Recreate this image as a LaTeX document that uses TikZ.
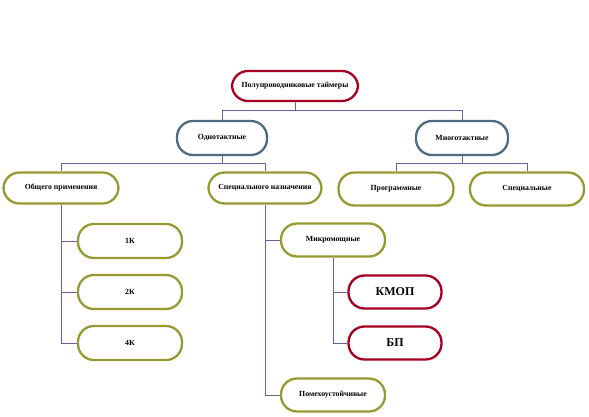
\documentclass[tikz,border=0pt]{standalone}
\usepackage{fontspec}
\setmainfont{Liberation Serif}
\begin{document}
\begin{tikzpicture}[x=1pt,y=-1pt,
  box/.style={draw, line width=2.3pt, rounded corners=16pt, fill=white, inner sep=1pt, font=\bfseries\fontsize{7.8}{8}\selectfont},
  redbox/.style={box, draw={rgb,255:red,165;green,0;blue,33}},
  bluebox/.style={box, draw={rgb,255:red,79;green,107;blue,128}},
  greenbox/.style={box, draw={rgb,255:red,153;green,153;blue,51}},
  link/.style={draw={rgb,255:red,106;green,95;blue,156}, line width=0.6pt}]
\useasboundingbox (0,0) rectangle (589,417);
\node[redbox, minimum width=126pt, minimum height=30pt] (root) at (295,86) {Полупроводниковые таймеры};
\node[bluebox, minimum width=90pt, minimum height=34pt] (odno) at (222,138) {Однотактные};
\node[bluebox, minimum width=92pt, minimum height=34pt] (mnogo) at (462,138) {Многотактные};
\node[greenbox, minimum width=115pt, minimum height=31pt] (obsh) at (61,188) {Общего применения};
\node[greenbox, minimum width=113pt, minimum height=31pt] (spec) at (265,188) {Специального назначения};
\node[greenbox, minimum width=115pt, minimum height=33pt] (prog) at (396,189) {Программные};
\node[greenbox, minimum width=114pt, minimum height=33pt] (speci) at (527,189) {Специальные};
\node[greenbox, minimum width=104pt, minimum height=34pt] (k1) at (130,241) {1К};
\node[greenbox, minimum width=104pt, minimum height=34pt] (k2) at (130,292) {2К};
\node[greenbox, minimum width=104pt, minimum height=34pt] (k4) at (130,343) {4К};
\node[greenbox, minimum width=104pt, minimum height=33pt] (mikro) at (333,240) {Микромощные};
\node[redbox, minimum width=93pt, minimum height=33pt, font=\bfseries\fontsize{12}{13}\selectfont] (kmop) at (395,292) {КМОП};
\node[redbox, minimum width=93pt, minimum height=33pt, font=\bfseries\fontsize{12}{13}\selectfont] (bp) at (395,343) {БП};
\node[greenbox, minimum width=104pt, minimum height=33pt] (pomeh) at (333,395) {Помехоустойчивые};
\path[link] (root.south) -- ++(0,8) -| (odno.north);
\path[link] (root.south) -- ++(0,8) -| (mnogo.north);
\path[link] (odno.south) -- ++(0,7) -| (obsh.north);
\path[link] (odno.south) -- ++(0,7) -| (spec.north);
\path[link] (mnogo.south) -- ++(0,7) -| (prog.north);
\path[link] (mnogo.south) -- ++(0,7) -| (speci.north);
\path[link] (obsh.south) |- (k1.west);
\path[link] (obsh.south) |- (k2.west);
\path[link] (obsh.south) |- (k4.west);
\path[link] (spec.south) |- (mikro.west);
\path[link] (spec.south) |- (pomeh.west);
\path[link] (mikro.south) |- (kmop.west);
\path[link] (mikro.south) |- (bp.west);
\end{tikzpicture}
\end{document}
